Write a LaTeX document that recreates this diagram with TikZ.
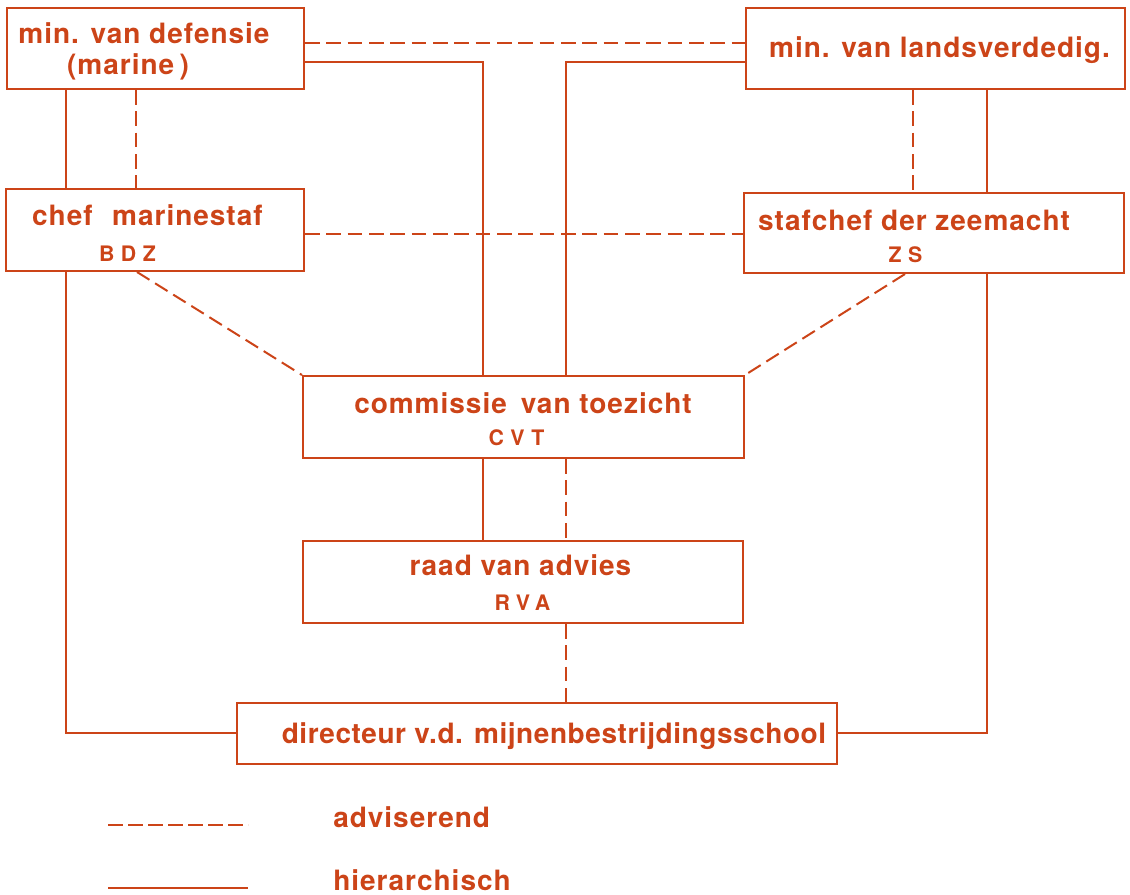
\documentclass[tikz,border=0pt]{standalone}
\usepackage{fontspec}
\setmainfont{TeX Gyre Heros}
\newfontfamily\lblfont{TeX Gyre Heros}[LetterSpace=3.5]
\newfontfamily\lblfontt{TeX Gyre Heros}[LetterSpace=2]
\newfontfamily\abbrfont{TeX Gyre Heros}[LetterSpace=30]
\definecolor{ink}{RGB}{204,68,24}
\begin{document}
\begin{tikzpicture}[x=0.75pt,y=-0.75pt,
  boxn/.style={draw=ink,line width=1.5pt,rectangle,inner sep=0pt},
  lbl/.style={text=ink,anchor=base,inner sep=0pt,font=\lblfont\bfseries\fontsize{21}{23}\selectfont},
  abbr/.style={text=ink,anchor=base,inner sep=0pt,font=\abbrfont\bfseries\fontsize{16}{18}\selectfont},
  hier/.style={draw=ink,line width=1.5pt},
  adv/.style={draw=ink,line width=1.5pt,dash pattern=on 11pt off 5pt}]
\useasboundingbox (0,0) rectangle (1130,894);
% boxes
\node[boxn,minimum width=297*0.75pt,minimum height=81*0.75pt] (b1) at (155.5,48.5) {};
\node[boxn,minimum width=379*0.75pt,minimum height=81*0.75pt] (b2) at (935.5,48.5) {};
\node[boxn,minimum width=298*0.75pt,minimum height=82*0.75pt] (b3) at (155,230) {};
\node[boxn,minimum width=380*0.75pt,minimum height=80*0.75pt] (b4) at (934,233) {};
\node[boxn,minimum width=441*0.75pt,minimum height=82*0.75pt] (b5) at (523.5,417) {};
\node[boxn,minimum width=440*0.75pt,minimum height=82*0.75pt] (b6) at (523,582) {};
\node[boxn,minimum width=600*0.75pt,minimum height=61*0.75pt] (b7) at (537,733.5) {};
% texts
\node[lbl] (t1a) at (144,43) {min. van defensie};
\node[lbl] (t1b) at (128,74) {(marine\kern4pt)};
\node[lbl] (t2) at (939.5,57) {min. van landsverdedig.};
\node[lbl] (t3a) at (147.5,225) {chef\hspace{0.7em}marinestaf};
\node[abbr] (t3b) at (127.5,261) {BDZ};
\node[lbl] (t4a) at (914,230) {stafchef der zeemacht};
\node[abbr] (t4b) at (905.5,262) {ZS};
\node[lbl] (t5a) at (523,413) {commissie\hspace{0.5em}van toezicht};
\node[abbr] (t5b) at (516.5,445) {CVT};
\node[lbl] (t6a) at (520.5,575) {raad van advies};
\node[abbr] (t6b) at (522.5,610) {RVA};
\node[lbl,font=\lblfontt\bfseries\fontsize{21}{23}\selectfont] (t7) at (554,743) {directeur v.d. mijnenbestrijdingsschool};
% helper coordinates
\coordinate (y43) at (0,43);
\coordinate (y62) at (0,62);
\coordinate (y234) at (0,234);
\coordinate (y733) at (0,733);
\coordinate (x66) at (66,0);
\coordinate (x136) at (136,0);
\coordinate (x137) at (137,0);
\coordinate (x483) at (483,0);
\coordinate (x566) at (566,0);
\coordinate (x905) at (905,0);
\coordinate (x913) at (913,0);
\coordinate (x987) at (987,0);
% connectors
\draw[adv] (b1.east |- y43) -- (b2.west |- y43);
\draw[hier] (b1.east |- y62) -| (x483 |- b5.north);
\draw[hier] (b2.west |- y62) -| (x566 |- b5.north);
\draw[hier] (x66 |- b1.south) -- (x66 |- b3.north);
\draw[adv] (x136 |- b1.south) -- (x136 |- b3.north);
\draw[adv] (x913 |- b2.south) -- (x913 |- b4.north);
\draw[hier] (x987 |- b2.south) -- (x987 |- b4.north);
\draw[adv] (b3.east |- y234) -- (b4.west |- y234);
\draw[adv] (x137 |- b3.south) -- (b5.north west);
\draw[adv] (x905 |- b4.south) -- (b5.north east);
\draw[hier] (x66 |- b3.south) |- (b7.west |- y733);
\draw[hier] (x987 |- b4.south) |- (b7.east |- y733);
\draw[hier] (x483 |- b5.south) -- (x483 |- b6.north);
\draw[adv] (x566 |- b5.south) -- (x566 |- b6.north);
\draw[adv] (x566 |- b6.south) -- (x566 |- b7.north);
% legend
\coordinate (la1) at (108,825);
\coordinate (la2) at (248,825);
\coordinate (lh1) at (108,888);
\coordinate (lh2) at (248,888);
\draw[adv,dash pattern=on 11pt off 4pt] (la1) -- (la2);
\draw[hier] (lh1) -- (lh2);
\node[lbl,anchor=base west] (ladv) at (333,827) {adviserend};
\node[lbl,anchor=base west] (lhier) at (333,890) {hierarchisch};
\end{tikzpicture}
\end{document}
